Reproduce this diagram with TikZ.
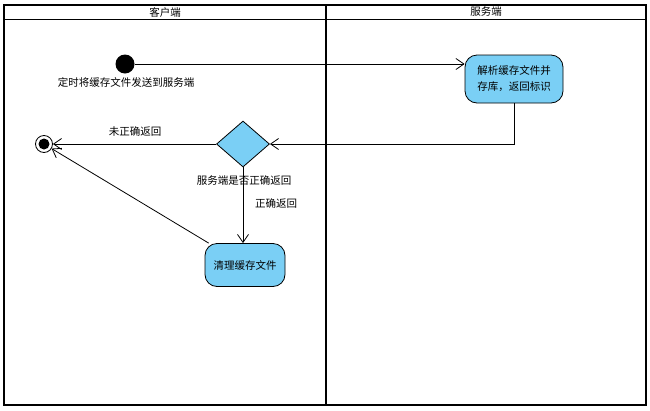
\documentclass[tikz,border=0pt]{standalone}
\usepackage{fontspec}
\setmainfont{Noto Sans CJK SC}
\usetikzlibrary{arrows.meta,shapes.geometric}
\definecolor{vpblue}{RGB}{122,207,245}
\begin{document}
\begin{tikzpicture}[x=1pt,y=-1pt,
  font=\fontsize{10.5}{16}\selectfont,
  lane/.style={draw, line width=1.5pt},
  act/.style={draw, fill=vpblue, rounded corners=12pt, line width=0.8pt, inner sep=0pt, align=left},
  flow/.style={-{Straight Barb[length=8pt,width=11pt]}, line width=0.8pt},
  lbl/.style={inner sep=0pt}]
\useasboundingbox (0,0) rectangle (650,410);
\draw[lane] (4,5) rectangle (646,405);
\draw[lane] (326,5) -- (326,405);
\draw[line width=1pt] (4,19) -- (646,19);
\node[lbl] (lane1) at (165,12) {客户端};
\node[lbl] (lane2) at (486,12) {服务端};
\node[circle, fill, minimum size=19pt, inner sep=0pt] (start) at (125,64) {};
\node[lbl] (startlbl) at (126,82) {定时将缓存文件发送到服务端};
\node[act, minimum width=98pt, minimum height=48pt] (parse) at (514,79) {解析缓存文件并\\存库，返回标识};
\node[diamond, draw, fill=vpblue, line width=0.8pt, minimum width=53pt, minimum height=46pt, inner sep=0pt] (dec) at (243,144) {};
\node[circle, draw, line width=0.8pt, minimum size=17pt, inner sep=0pt] (final) at (44,144) {};
\node[circle, fill, minimum size=11pt, inner sep=0pt] (finaldot) at (final) {};
\node[act, minimum width=80pt, minimum height=43pt] (clean) at (245,265) {清理缓存文件};
\node[lbl] (l1) at (135,131) {未正确返回};
\node[lbl] (l2) at (244,181) {服务端是否正确返回};
\node[lbl] (l3) at (276,203) {正确返回};
\draw[flow] (start) -- (start -| parse.west);
\draw[flow] (parse.south) -- (parse.south |- dec) -- (dec.east);
\draw[flow] (dec.west) -- (final);
\draw[flow] (dec.south) -- (dec.south |- clean.north);
\draw[flow] (clean) -- (final);
\end{tikzpicture}
\end{document}
